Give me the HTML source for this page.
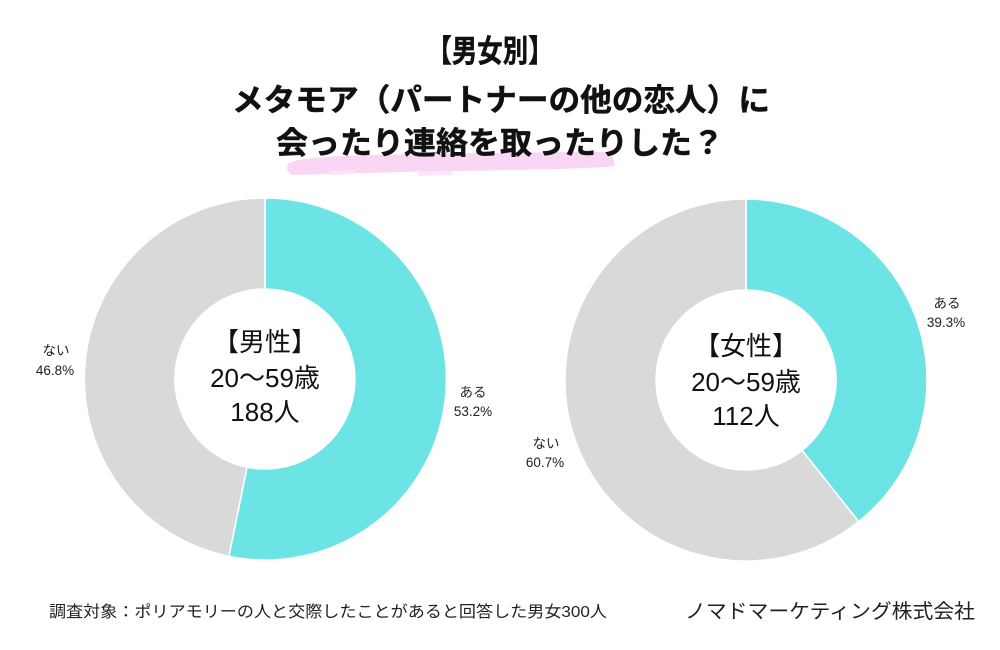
<!DOCTYPE html>
<html>
<head>
<meta charset="utf-8">
<style>
  html,body{margin:0;padding:0;background:#fff;}
  svg{display:block;}
  text{font-family:"Liberation Sans","Noto Sans CJK JP",sans-serif;}
</style>
</head>
<body>
<svg width="1000" height="650" viewBox="0 0 1000 650" xmlns="http://www.w3.org/2000/svg">
  <rect width="1000" height="650" fill="#ffffff"/>

  <!-- highlight brush stroke -->
  <path d="M289,163 C300,158 330,156 380,155 C450,153 540,152 605,152 C612,155 616,160 614,166 C590,169 520,170 450,171 C390,172 330,174 292,175 C286,171 286,166 289,163 Z" fill="#f9d6f3"/>
  <path d="M330,171 L356,170 L355,174 L331,175 Z" fill="#fbe5f8"/>
  <path d="M418,172 L452,171 L451,175 L419,176 Z" fill="#fbe5f8"/>

  <!-- title -->
  <g font-weight="bold" fill="#111" stroke="#111" stroke-width="0.5" font-size="31" text-anchor="middle">
    <text x="490" y="62" textLength="127" lengthAdjust="spacingAndGlyphs">【男女別】</text>
    <text x="501" y="111" textLength="538" lengthAdjust="spacingAndGlyphs">メタモア（パートナーの他の恋人）に</text>
    <text x="500" y="154" textLength="448" lengthAdjust="spacingAndGlyphs">会ったり連絡を取ったりした？</text>
  </g>

  <!-- left donut -->
  <g stroke="#ffffff" stroke-width="1.5">
    <path d="M265,198 A181,181 0 1 1 228.9,556.3 L247.0,467.2 A90,90 0 1 0 265,289 Z" fill="#6ce4e6"/>
    <path d="M228.9,556.3 A181,181 0 0 1 265,198 L265,289 A90,90 0 0 0 247.0,467.2 Z" fill="#d9d9d9"/>
  </g>
  <!-- right donut -->
  <g stroke="#ffffff" stroke-width="1.5">
    <path d="M746,199 A181,181 0 0 1 858.7,521.6 L802.1,450.4 A90,90 0 0 0 746,290 Z" fill="#6ce4e6"/>
    <path d="M858.7,521.6 A181,181 0 1 1 746,199 L746,290 A90,90 0 1 0 802.1,450.4 Z" fill="#d9d9d9"/>
  </g>

  <!-- center texts -->
  <g fill="#111" font-size="26" text-anchor="middle">
    <text x="265" y="351">【男性】</text>
    <text x="265" y="387">20〜59歳</text>
    <text x="265" y="421">188人</text>
    <text x="746" y="355">【女性】</text>
    <text x="746" y="391">20〜59歳</text>
    <text x="746" y="425">112人</text>
  </g>

  <!-- slice labels -->
  <g fill="#222" font-size="13.5" text-anchor="middle">
    <text x="56" y="355">ない</text>
    <text x="55" y="375">46.8%</text>
    <text x="473" y="397">ある</text>
    <text x="473" y="416">53.2%</text>
    <text x="947" y="308">ある</text>
    <text x="946" y="327">39.3%</text>
    <text x="546" y="448">ない</text>
    <text x="545" y="467">60.7%</text>
  </g>

  <!-- footer -->
  <text x="49" y="617" font-size="16" fill="#222" textLength="558" lengthAdjust="spacingAndGlyphs">調査対象：ポリアモリーの人と交際したことがあると回答した男女300人</text>
  <text x="685" y="618" font-size="20" fill="#222" textLength="290" lengthAdjust="spacingAndGlyphs">ノマドマーケティング株式会社</text>
</svg>
</body>
</html>
